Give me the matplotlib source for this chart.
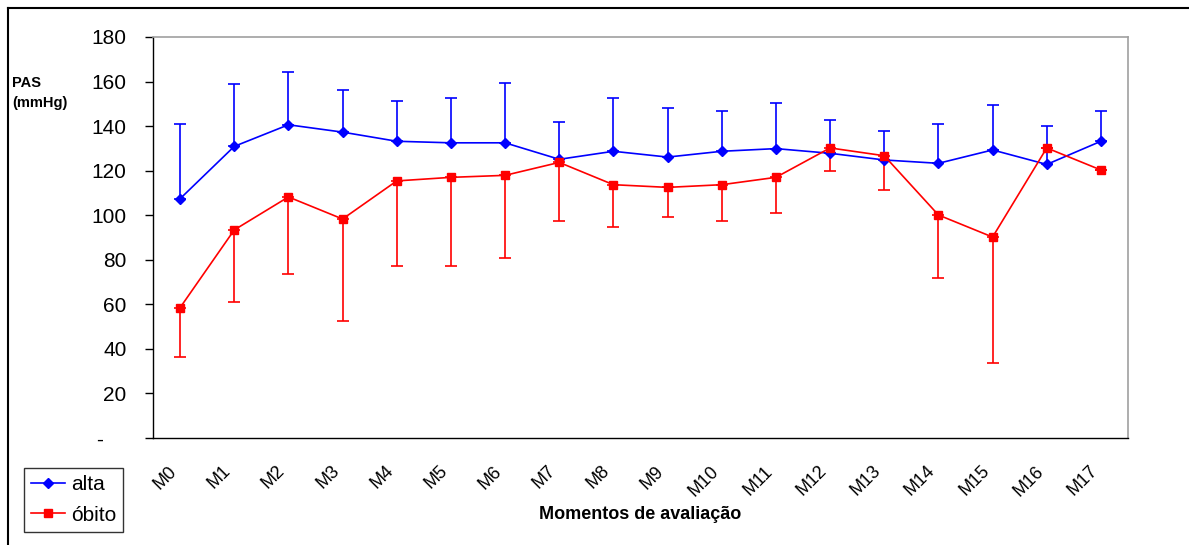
import numpy as np
import matplotlib.pyplot as plt
import matplotlib.transforms as mtransforms
from matplotlib.lines import Line2D

plt.rcParams['font.family'] = ['Liberation Sans', 'DejaVu Sans']

momentos = ['M%d' % i for i in range(18)]

# alta: mean and upper deviation
alta = [107.4, 130.9, 140.6, 137.3, 133.2, 132.5, 132.5, 125.1, 128.7,
        126.1, 128.7, 129.9, 127.8, 124.8, 123.3, 129.3, 122.8, 133.2]
alta_dp = [33.4, 28.0, 23.8, 18.9, 18.2, 20.2, 27.0, 16.7, 24.0,
           21.9, 18.2, 20.6, 14.8, 13.1, 17.5, 20.2, 17.4, 13.7]

# óbito: mean and lower deviation
obito = [58.5, 93.4, 108.2, 98.3, 115.4, 117.0, 117.9, 123.7, 113.7,
         112.5, 113.7, 117.0, 130.2, 126.7, 100.1, 90.2, 130.2, 120.3]
obito_dp = [22.1, 32.5, 34.6, 45.6, 38.1, 39.7, 37.2, 26.2, 18.9,
            13.3, 16.2, 16.0, 10.2, 15.4, 28.2, 56.7, 0, 0]

yticks = [0, 20, 40, 60, 80, 100, 120, 140, 160, 180]
ylabels = ['-    '] + [str(v) for v in yticks[1:]]

fig = plt.figure(figsize=(11.89, 5.45), dpi=100)
ax = fig.add_axes([153 / 1189, 1 - 438 / 545, (1128 - 153) / 1189, (438 - 37) / 545])

x = np.arange(len(momentos))
zeros = np.zeros(len(x))

ax.errorbar(x, alta, yerr=[zeros, alta_dp], color='#0000ff', marker='D',
            markersize=5.5, linewidth=1.2, elinewidth=1.2, capsize=4,
            capthick=1.2)
ax.errorbar(x, obito, yerr=[obito_dp, zeros], color='#ff0000', marker='s',
            markersize=6, linewidth=1.2, elinewidth=1.2, capsize=4,
            capthick=1.2)

ax.set_xlim(-0.5, len(x) - 0.5)
ax.set_ylim(0, 180)
ax.set_yticks(yticks)
ax.set_yticklabels(ylabels, fontsize=15)
ax.set_xticks(x)
ax.set_xticklabels(momentos, rotation=45, ha='right', va='center',
                   rotation_mode='anchor', fontsize=13)
ax.tick_params(axis='x', length=0, pad=22)
ax.tick_params(axis='y', length=6, width=1, direction='out', pad=13)

# nudge the slanted labels a little to the left
shift = mtransforms.ScaledTranslation(-6 / 100, 0, fig.dpi_scale_trans)
for lbl in ax.get_xticklabels():
    lbl.set_transform(lbl.get_transform() + shift)

for side in ['top', 'right']:
    ax.spines[side].set_color('#a0a0a0')
    ax.spines[side].set_linewidth(1.2)
for side in ['left', 'bottom']:
    ax.spines[side].set_color('black')
    ax.spines[side].set_linewidth(1)

ax.set_xlabel('Momentos de avaliação', fontsize=13, fontweight='bold',
              labelpad=5)
fig.text(12 / 1189, 1 - 93 / 545, 'PAS\n(mmHg)', fontsize=10.5,
         fontweight='bold', va='center', ha='left', linespacing=1.6)

handles = [Line2D([], [], color='#0000ff', marker='D', markersize=5.5,
                  linewidth=1.2),
           Line2D([], [], color='#ff0000', marker='s', markersize=6,
                  linewidth=1.2)]
leg = fig.legend(handles, ['alta', 'óbito'], loc='lower left',
                 bbox_to_anchor=(24 / 1189, 1 - 532 / 545),
                 borderaxespad=0, fontsize=15, frameon=True, fancybox=False,
                 edgecolor='black', handlelength=1.6, borderpad=0.35,
                 labelspacing=0.55, handletextpad=0.3)
leg.get_frame().set_linewidth(1)

# outer frame around the figure
fig.add_artist(Line2D([8 / 1189, 1], [1 - 8 / 545, 1 - 8 / 545],
                      color='black', linewidth=1.5))
fig.add_artist(Line2D([8 / 1189, 8 / 1189], [0, 1 - 8 / 545],
                      color='black', linewidth=1.5))

fig.savefig('out.png', dpi=100)
